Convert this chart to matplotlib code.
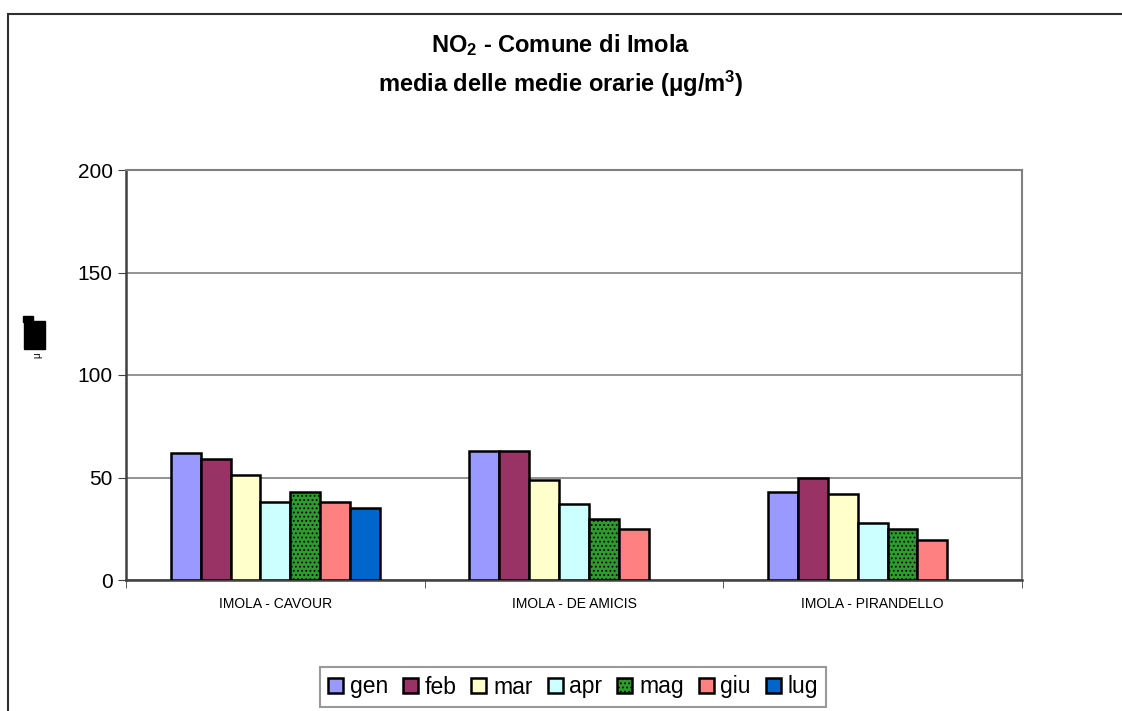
import numpy as np
import matplotlib.pyplot as plt
from matplotlib.patches import Rectangle

# - - - data - - - #
stations = ['IMOLA - CAVOUR', 'IMOLA - DE AMICIS', 'IMOLA - PIRANDELLO']
months = ['gen', 'feb', 'mar', 'apr', 'mag', 'giu', 'lug']
gen = [62, 63, 43]
feb = [59, 63, 50]
mar = [51, 49, 42]
apr = [38, 37, 28]
mag = [43, 30, 25]
giu = [38, 25, 19.5]
lug = [35, np.nan, np.nan]

series = [gen, feb, mar, apr, mag, giu, lug]
colors = ['#9999FF', '#993366', '#FFFFCC', '#CCFFFF', '#2E9B2E', '#FF8080', '#0066CC']
hatches = [None, None, None, None, '....', None, None]

plt.rcParams['font.family'] = ['Liberation Sans', 'DejaVu Sans']
plt.rcParams['hatch.linewidth'] = 0.8
plt.rcParams['mathtext.fontset'] = 'custom'
plt.rcParams['mathtext.rm'] = 'Liberation Sans:bold'
plt.rcParams['mathtext.default'] = 'rm'

fig = plt.figure(figsize=(11.22, 7.11), dpi=100)
ax = fig.add_axes([126 / 1122, 1 - 580 / 711, 896 / 1122, 410 / 711])

x = np.arange(len(stations))
w = 0.1
for i, (vals, c, h, m) in enumerate(zip(series, colors, hatches, months)):
    ax.bar(x + (i - 3) * w, vals, w, color=c, edgecolor='black', linewidth=1.8,
           hatch=h, label=m, zorder=3)

ax.set_xlim(-0.5, 2.5)
ax.set_ylim(0, 200)
ax.set_yticks([0, 50, 100, 150, 200])
ax.tick_params(axis='y', labelsize=15, length=6, direction='out', color='#404040')
ax.set_xticks(x)
ax.set_xticklabels(stations, fontsize=10)
ax.set_xticks([-0.5, 0.5, 1.5, 2.5], minor=True)
ax.tick_params(axis='x', which='major', length=0, pad=12)
ax.tick_params(axis='x', which='minor', length=6, color='#404040')
ax.grid(axis='y', color='#808080', linewidth=1.2, zorder=0)

for s in ['top', 'right']:
    ax.spines[s].set_color('#808080')
    ax.spines[s].set_linewidth(1.5)
for s in ['left', 'bottom']:
    ax.spines[s].set_color('#404040')
    ax.spines[s].set_linewidth(1.8)

# titles
fig.text(0.5, 1 - 45 / 711, 'NO$_2$ - Comune di Imola', ha='center', va='center',
         fontsize=17, fontweight='bold')
fig.text(0.5, 1 - 84 / 711, 'media delle medie orarie (\u03bcg/m$^3$)', ha='center',
         va='center', fontsize=17, fontweight='bold')

# odd y label (black block and small mu)
fig.patches.append(Rectangle((24 / 1122, 1 - 349 / 711), 21 / 1122, 28 / 711,
                             transform=fig.transFigure, color='black'))
fig.patches.append(Rectangle((23 / 1122, 1 - 322 / 711), 10 / 1122, 6 / 711,
                             transform=fig.transFigure, color='black'))
fig.text(37 / 1122, 1 - 355 / 711, '\u03bc', rotation=90, fontsize=7,
         ha='center', va='center')

# outer chart border (left and top visible)
fig.patches.append(Rectangle((8 / 1122, -0.1), 1.2, 1.1 - 14 / 711,
                             transform=fig.transFigure, fill=False,
                             edgecolor='#303030', linewidth=1.5))

leg = fig.legend(loc='center', bbox_to_anchor=(573 / 1122, 1 - 687 / 711), ncol=7,
                 fontsize=16.5, frameon=True, fancybox=False, handlelength=0.65,
                 handleheight=0.65, handletextpad=0.3, columnspacing=0.65,
                 borderpad=0.35, borderaxespad=0, edgecolor='#808080')
leg.get_frame().set_linewidth(1.5)

fig.savefig('out.png', dpi=100)
